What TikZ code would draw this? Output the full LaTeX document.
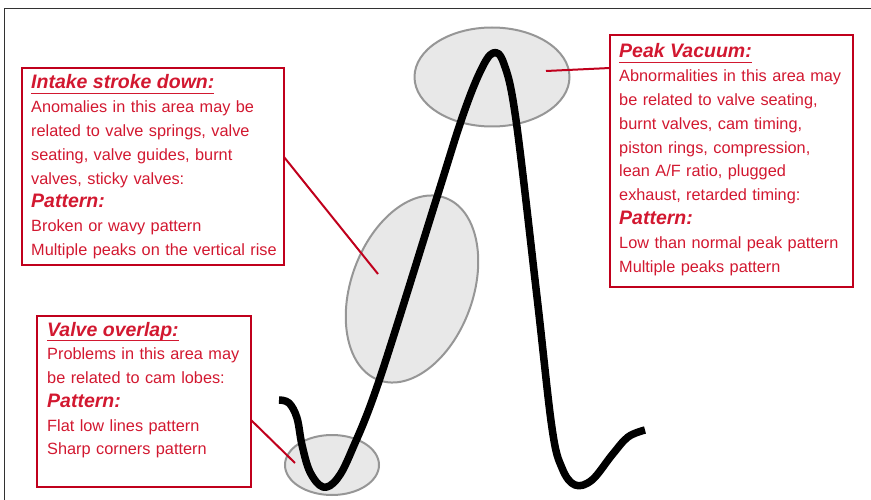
\documentclass[tikz,border=0pt]{standalone}
\usepackage{fontspec}
\setmainfont{Liberation Sans}
\usetikzlibrary{positioning,calc,shapes.geometric}
\definecolor{boxred}{RGB}{192,0,28}
\definecolor{txtred}{RGB}{210,24,48}
\definecolor{zonegray}{RGB}{232,232,232}
\definecolor{rimgray}{RGB}{150,150,150}
\definecolor{framegray}{RGB}{50,50,50}
\newcommand{\notehead}[1]{{\fontsize{19.5}{23.8}\selectfont\bfseries\itshape
  \setbox0\hbox{#1}\rlap{\rule[-5pt]{\wd0}{1.1pt}}\box0}}
\newcommand{\notesub}[1]{{\fontsize{19.5}{23.8}\selectfont\bfseries\itshape #1}}
\tikzset{
  notebox/.style={draw=boxred, line width=2.8pt, anchor=north west, inner sep=0pt,
                  outer sep=0pt},
  notetxt/.style={anchor=base west, text=txtred, inner sep=0pt, text width=300pt,
                  align=left, font=\fontsize{16.3}{23.8}\selectfont},
  zone/.style={ellipse, draw=rimgray, fill=zonegray, line width=2pt, inner sep=0pt},
  lead/.style={draw=boxred, line width=2pt},
  trace/.style={line width=7.5pt, line join=round},
}

\begin{document}
\begin{tikzpicture}[x=1pt, y=-1pt]
    \useasboundingbox (0,0) rectangle (871,500);
    \draw[framegray, line width=1pt] (4,500) -- (4,9) -- (871,9);
    % marked zones on the trace
    \node[zone, minimum width=155pt, minimum height=99pt] (topzone) at (492,77) {};
    \node[zone, minimum width=122pt, minimum height=194pt, rotate=-20] (midzone) at (412,289) {};
    \node[zone, minimum width=94pt, minimum height=60pt] (lowzone) at (332,465) {};
    \coordinate (ipt) at (378,274);
    \coordinate (ppt) at (546,71);
    \coordinate (vpt) at (295,463);
    % boxes
    \node[notebox, minimum width=262pt, minimum height=197pt] (ibox) at (22,68) {};
    \node[notebox, minimum width=243pt, minimum height=252pt] (pbox) at (610,35) {};
    \node[notebox, minimum width=214pt, minimum height=171pt] (vbox) at (37,316) {};
    \node[notetxt] (itxt) at ($(ibox.north west)+(9,21)$) {\notehead{Intake stroke down:}\\
      Anomalies in this area may be\\ related to valve springs, valve\\
      seating, valve guides, burnt\\ valves, sticky valves:\\
      \notesub{Pattern:}\\ Broken or wavy pattern\\ Multiple peaks on the vertical rise};
    \node[notetxt] (ptxt) at ($(pbox.north west)+(9,23)$) {\notehead{Peak Vacuum:}\\
      Abnormalities in this area may\\ be related to valve seating,\\
      burnt valves, cam timing,\\ piston rings, compression,\\
      lean A/F ratio, plugged\\ exhaust, retarded timing:\\
      \notesub{Pattern:}\\ Low than normal peak pattern\\ Multiple peaks pattern};
    \node[notetxt] (vtxt) at ($(vbox.north west)+(10,20)$) {\notehead{Valve overlap:}\\
      Problems in this area may\\ be related to cam lobes:\\
      \notesub{Pattern:}\\ Flat low lines pattern\\ Sharp corners pattern};
    % leaders
    \draw[lead] (ibox.north east) ++(0,89) -- (ipt);
    \draw[lead] (pbox.north west) ++(0,33) -- (ppt);
    \draw[lead] (vbox.north east) ++(0,104) -- (vpt);
    % vacuum trace
    \draw[trace] plot[smooth, tension=0.6] coordinates {(279,400) (289,403) (297,418)
      (302,445) (310,472) (323,487) (337,479) (352,450) (380,378) (437,197) (462,118)
      (480,72) (493,53) (504,64) (516,120) (537,297) (552,428) (562,468) (575,485)
      (592,480) (612,455) (628,437) (645,430)};
\end{tikzpicture}
\end{document}
